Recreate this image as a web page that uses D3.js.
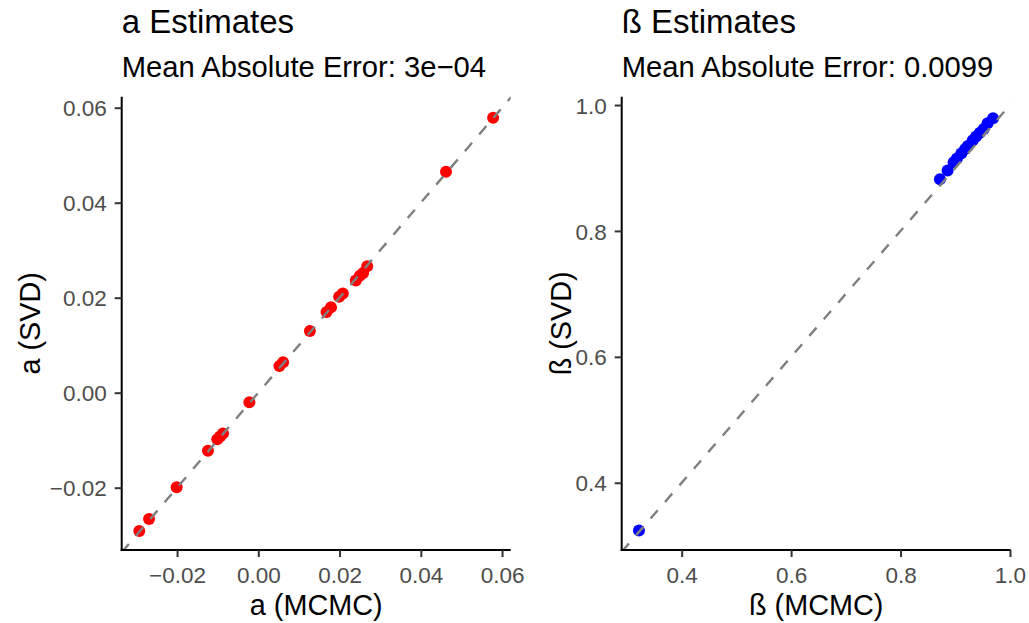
<!DOCTYPE html>
<html>
<head>
<meta charset="utf-8">
<script src="https://cdn.jsdelivr.net/npm/d3@7"></script>
<style>
  html, body { margin: 0; padding: 0; background: #ffffff; }
  svg { display: block; font-family: "Liberation Sans", Arial, Helvetica, sans-serif; }
</style>
</head>
<body>
<svg id="chart" width="1029" height="623"></svg>
<script>
// Alpha estimates: MCMC vs SVD
const alphaMCMC = [-0.0293, -0.0269, -0.0201, -0.0124, -0.0101, -0.0094, -0.0087, -0.0022,
  0.0052, 0.0061, 0.0127, 0.0168, 0.0179, 0.0199, 0.0208, 0.0240, 0.0250, 0.0258, 0.0268,
  0.0462, 0.0578];
const alphaSVD = [-0.0291, -0.0266, -0.0199, -0.0122, -0.0098, -0.0092, -0.0086, -0.0020,
  0.0056, 0.0064, 0.0130, 0.0170, 0.0180, 0.0202, 0.0209, 0.0236, 0.0246, 0.0252, 0.0266,
  0.0465, 0.0579];

// Beta estimates: MCMC vs SVD
const betaMCMC = [0.322, 0.872, 0.886, 0.897, 0.903, 0.911, 0.918, 0.923, 0.932, 0.938,
  0.945, 0.952, 0.959, 0.969];
const betaSVD = [0.324, 0.882, 0.896, 0.909, 0.915, 0.923, 0.930, 0.935, 0.944, 0.950,
  0.956, 0.962, 0.971, 0.979];

// Axis ticks
const alphaTicks = [-0.02, 0.00, 0.02, 0.04, 0.06];
const betaTicks = [0.4, 0.6, 0.8, 1.0];

// Titles
const alphaTitle = "a Estimates";
const alphaSubtitle = "Mean Absolute Error: 3e\u221204";
const betaTitle = "\u00DF Estimates";
const betaSubtitle = "Mean Absolute Error: 0.0099";

const svg = d3.select("#chart");

const fmt2 = v => d3.format(".2f")(v).replace("-", "\u2212");
const fmt1 = v => d3.format(".1f")(v);

const panels = [
  {
    id: "alpha", left: 121.7, right: 510.7,
    xs: alphaMCMC, ys: alphaSVD, color: "#ff0000",
    xDomain: [-0.03363, 0.06213], yDomain: [-0.03312, 0.06232],
    ticks: alphaTicks, fmt: fmt2,
    title: alphaTitle, subtitle: alphaSubtitle,
    xLabel: "a (MCMC)", yLabel: "a (SVD)", yLabelX: 40
  },
  {
    id: "beta", left: 621.7, right: 1010.7,
    xs: betaMCMC, ys: betaSVD, color: "#0000ff",
    xDomain: [0.2904, 1.0013], yDomain: [0.2932, 1.0132],
    ticks: betaTicks, fmt: fmt1,
    title: betaTitle, subtitle: betaSubtitle,
    xLabel: "\u00DF (MCMC)", yLabel: "\u00DF (SVD)", yLabelX: 571
  }
];

const panelTop = 96.7, panelBottom = 550;

panels.forEach(p => {
  const x = d3.scaleLinear().domain(p.xDomain).range([p.left, p.right]);
  const y = d3.scaleLinear().domain(p.yDomain).range([panelBottom, panelTop]);
  const g = svg.append("g").attr("class", "panel-" + p.id);

  // clip region for the panel
  const clipId = "clip-" + p.id;
  svg.append("clipPath").attr("id", clipId)
    .append("rect")
    .attr("x", p.left).attr("y", panelTop)
    .attr("width", p.right - p.left).attr("height", panelBottom - panelTop);

  // points
  const pts = p.xs.map((v, i) => ({ x: v, y: p.ys[i] }));
  g.append("g").attr("clip-path", `url(#${clipId})`)
    .selectAll("circle").data(pts).join("circle")
    .attr("cx", d => x(d.x)).attr("cy", d => y(d.y))
    .attr("r", 6).attr("fill", p.color);

  // identity reference line y = x
  const lo = Math.min(p.xDomain[0], p.yDomain[0]);
  const hi = Math.max(p.xDomain[1], p.yDomain[1]);
  g.append("line").attr("clip-path", `url(#${clipId})`)
    .attr("x1", x(lo)).attr("y1", y(lo))
    .attr("x2", x(hi)).attr("y2", y(hi))
    .attr("stroke", "#7f7f7f").attr("stroke-width", 2.4)
    .attr("stroke-dasharray", "11,11");

  // x axis
  const xAxis = g.append("g").attr("transform", `translate(0,${panelBottom})`)
    .call(d3.axisBottom(x).tickValues(p.ticks).tickFormat(p.fmt).tickSize(7).tickPadding(4));
  // y axis
  const yAxis = g.append("g").attr("transform", `translate(${p.left},0)`)
    .call(d3.axisLeft(y).tickValues(p.ticks).tickFormat(p.fmt).tickSize(7).tickPadding(6));

  [xAxis, yAxis].forEach(ax => {
    ax.select(".domain").attr("stroke", "#000").attr("stroke-width", 2);
    ax.selectAll(".tick line").attr("stroke", "#333333").attr("stroke-width", 2);
    ax.selectAll(".tick text").attr("fill", "#4d4d4d")
      .style("font-size", "22.5px").style("font-family", "Liberation Sans, Arial, sans-serif");
  });
  xAxis.selectAll(".tick text").attr("dy", null).attr("y", 0)
    .attr("transform", "translate(0,33)");
  yAxis.selectAll(".tick text").attr("dy", "0.36em").attr("x", -15);

  // domain lines meeting at the corner
  xAxis.select(".domain").attr("d", `M${p.left - 1},0H${p.right}`);
  yAxis.select(".domain").attr("d", `M0,${panelTop}V${panelBottom + 1}`);

  // titles
  svg.append("text").attr("x", p.left).attr("y", 33)
    .style("font-size", "33px").attr("fill", "#000").text(p.title);
  svg.append("text").attr("x", p.left).attr("y", 77)
    .style("font-size", "29.2px").attr("fill", "#000").text(p.subtitle);

  // axis titles
  svg.append("text").attr("x", (p.left + p.right) / 2).attr("y", 614.5)
    .attr("text-anchor", "middle").style("font-size", "28.8px").attr("fill", "#000")
    .text(p.xLabel);
  svg.append("text")
    .attr("transform", `translate(${p.yLabelX},${(panelTop + panelBottom) / 2}) rotate(-90)`)
    .attr("text-anchor", "middle").style("font-size", "28.8px").attr("fill", "#000")
    .text(p.yLabel);
});
</script>
</body>
</html>
